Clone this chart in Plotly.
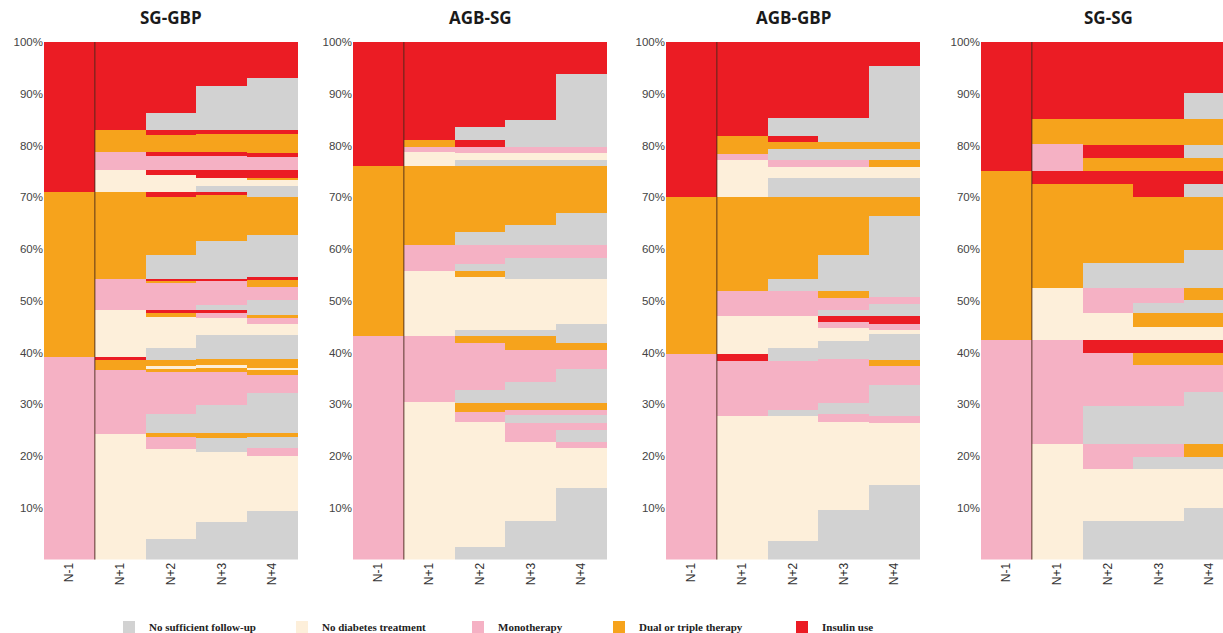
import plotly.graph_objects as go

# ---------------- data ----------------
COLUMNS = ["N-1", "N+1", "N+2", "N+3", "N+4"]
PANEL_TITLES = ["SG-GBP", "AGB-SG", "AGB-GBP", "SG-SG"]
CODES = ["G", "C", "P", "O", "R"]
CATEGORY_NAMES = ["No sufficient follow-up", "No diabetes treatment", "Monotherapy",
                  "Dual or triple therapy", "Insulin use"]
Y_TICKS = [10, 20, 30, 40, 50, 60, 70, 80, 90, 100]
Y_TICK_LABELS = ["10%", "20%", "30%", "40%", "50%", "60%", "70%", "80%", "90%", "100%"]

# Each column: category codes from bottom to top, and cumulative top (%) of each segment
SG_GBP_CATS = [
    "P O R",
    "C P O R C P O C P O R",
    "G C P O G P O C O G C O R P O R G O R C R P R O R G R",
    "G C G O G P O C O G C P R G P R G O R G C R P R O R G R",
    "G C P G O G P O C O G C P O G P O R G O G C O R P R O R G R",
]
SG_GBP_TOPS = [
    [39.1, 71.0, 100],
    [24.3, 36.6, 38.6, 39.1, 48.3, 54.3, 71.1, 75.3, 78.7, 83.0, 100],
    [3.9, 21.4, 23.7, 24.5, 28.2, 36.3, 36.8, 37.3, 38.6, 40.8, 46.9, 47.6, 48.2, 53.4,
     53.8, 54.3, 58.8, 70.0, 71.1, 74.3, 75.3, 78.0, 78.7, 82.1, 83.0, 86.2, 100],
    [7.2, 20.8, 23.4, 24.5, 29.9, 36.2, 37.0, 37.6, 38.7, 43.4, 46.6, 47.6, 48.2, 49.2,
     53.8, 54.3, 61.6, 70.4, 71.1, 72.1, 73.8, 75.3, 78.0, 78.7, 82.3, 83.0, 91.5, 100],
    [9.4, 20.0, 21.5, 23.6, 24.4, 32.2, 35.6, 36.6, 37.1, 38.7, 43.4, 45.6, 46.6, 47.2,
     50.1, 52.7, 54.0, 54.6, 62.7, 70.0, 72.1, 73.5, 73.8, 75.3, 77.8, 78.5, 82.3, 83.0, 93.0, 100],
]

AGB_SG_CATS = [
    "P O R",
    "C P C P O C P O R",
    "G C P O G P O G C O G P G O G C P R G R",
    "G C P G P O G P O G C G P G O G C P G R",
    "G C P G P G P O G P O G C G P G O G C P G R",
]
AGB_SG_TOPS = [
    [43.1, 76.0, 100],
    [30.5, 43.1, 55.8, 60.8, 76.0, 78.8, 79.8, 81.1, 100],
    [2.5, 26.5, 28.6, 30.2, 32.8, 41.8, 43.1, 44.3, 54.5, 55.8, 57.1, 60.8, 63.3, 76.0,
     77.2, 78.5, 79.8, 81.1, 83.6, 100],
    [7.5, 22.8, 26.4, 27.9, 28.9, 30.3, 34.3, 40.5, 43.1, 44.3, 54.3, 58.2, 60.8, 64.6,
     76.0, 77.2, 78.5, 79.8, 84.9, 100],
    [13.9, 21.6, 22.8, 25.1, 26.4, 27.9, 28.9, 30.3, 36.8, 40.5, 41.8, 45.6, 54.3, 58.2,
     60.8, 67.0, 76.0, 77.2, 78.5, 79.8, 93.8, 100],
]

AGB_GBP_CATS = [
    "P O R",
    "C P R C P O C P O R",
    "G C G P G C P G O G C P G O R G R",
    "G C P G P G C P R G P O G O G C P G O G R",
    "G C P G P O G C P R G P G O G C O G O G R",
]
AGB_GBP_TOPS = [
    [39.7, 70.1, 100],
    [27.8, 38.4, 39.8, 47.1, 51.8, 70.1, 77.2, 78.3, 81.8, 100],
    [3.6, 27.8, 28.9, 38.4, 40.9, 47.1, 51.8, 54.3, 70.1, 73.7, 75.9, 77.2, 79.4, 80.7,
     81.8, 85.4, 100],
    [9.6, 26.6, 28.2, 30.2, 38.7, 42.3, 44.7, 45.8, 47.1, 48.2, 50.5, 51.8, 58.8, 70.1,
     73.7, 75.9, 77.2, 79.4, 80.7, 85.4, 100],
    [14.4, 26.4, 27.8, 33.7, 37.4, 38.5, 43.5, 44.3, 45.6, 47.1, 49.4, 50.8, 66.3, 70.1,
     73.7, 75.9, 77.2, 79.4, 80.7, 95.4, 100],
]

SG_SG_CATS = [
    "P O R",
    "C P C O R P O R",
    "G C P G P R C P G O R O R O R",
    "G C G P G P O R C O G P G O R O R O R",
    "G C G O G P O R C O G O G O G R O G O G R",
]
SG_SG_TOPS = [
    [42.5, 75.1, 100],
    [22.4, 42.5, 52.4, 72.5, 75.1, 80.2, 85.1, 100],
    [7.4, 17.5, 22.4, 29.6, 40.0, 42.5, 47.6, 52.4, 57.2, 72.5, 75.1, 77.5, 80.1, 85.1, 100],
    [7.4, 17.5, 19.9, 22.4, 29.6, 37.6, 40.0, 42.5, 45.0, 47.6, 49.5, 52.4, 57.2, 70.1,
     75.1, 77.5, 80.1, 85.1, 100],
    [9.9, 17.5, 19.9, 22.4, 32.4, 37.6, 40.0, 42.5, 45.0, 47.6, 50.1, 52.4, 59.8, 70.1,
     72.5, 75.1, 77.5, 80.1, 85.1, 90.1, 100],
]

# ---------------- styling ----------------
COLORS = {"G": "#D2D2D2", "C": "#FDEFDA", "P": "#F5B1C4", "O": "#F6A31C", "R": "#EB1C24"}
W, H = 1223, 633
PANEL_PX = [(44, 298), (353, 607), (666, 920), (981, 1235)]
Y_TOP_PX, Y_BOT_PX = 42, 559.5
LEGEND_TEXT_X = [149, 322, 498, 639, 822]
LEGEND_Y_PX = 627

panels = [
    (PANEL_TITLES[0], SG_GBP_CATS, SG_GBP_TOPS),
    (PANEL_TITLES[1], AGB_SG_CATS, AGB_SG_TOPS),
    (PANEL_TITLES[2], AGB_GBP_CATS, AGB_GBP_TOPS),
    (PANEL_TITLES[3], SG_SG_CATS, SG_SG_TOPS),
]

fig = go.Figure()
layout = dict(
    width=W, height=H, margin=dict(l=0, r=0, t=0, b=0, autoexpand=False),
    paper_bgcolor="white", plot_bgcolor="white",
    barmode="overlay", bargap=0, showlegend=True,
    font=dict(family="Liberation Sans, Arial, sans-serif", color="#3a3a3a"),
    annotations=[], shapes=[],
)

y_domain = [(H - Y_BOT_PX) / H, (H - Y_TOP_PX) / H]

for pi, (title, cats, tops) in enumerate(panels):
    suffix = "" if pi == 0 else str(pi + 1)
    xa, ya = "x" + suffix, "y" + suffix
    for k, code in enumerate(CODES):
        xs, bases, hs = [], [], []
        for ci in range(len(COLUMNS)):
            prev = 0.0
            for c, t in zip(cats[ci].split(), tops[ci]):
                if c == code:
                    xs.append(ci)
                    bases.append(prev)
                    hs.append(t - prev)
                prev = t
        fig.add_trace(go.Bar(
            x=xs, y=hs, base=bases, width=1.0,
            marker=dict(color=COLORS[code], line=dict(width=0)),
            name=CATEGORY_NAMES[k], xaxis=xa, yaxis=ya,
            showlegend=(pi == 0),
            legend="legend" if k == 0 else f"legend{k + 1}",
            hovertemplate="%{y:.1f}%<extra>" + CATEGORY_NAMES[k] + "</extra>",
        ))

    x0px, x1px = PANEL_PX[pi]
    dom_right = min(x1px, W)
    col_w = (x1px - x0px) / len(COLUMNS)
    x_range_right = -0.5 + (dom_right - x0px) / col_w
    layout["xaxis" + suffix] = dict(
        domain=[x0px / W, dom_right / W], anchor=ya,
        range=[-0.5, x_range_right], automargin=False,
        tickmode="array", tickvals=list(range(len(COLUMNS))), ticktext=COLUMNS,
        tickangle=-90, showgrid=False, zeroline=False, showline=False, ticks="",
        tickfont=dict(size=12, color="#333333"), fixedrange=True,
    )
    layout["yaxis" + suffix] = dict(
        domain=y_domain, anchor=xa, range=[0, 100], automargin=False,
        tickmode="array", tickvals=Y_TICKS, ticktext=Y_TICK_LABELS,
        showgrid=False, zeroline=False, showline=False, ticks="",
        tickfont=dict(size=11.5, color="#444444"), fixedrange=True,
    )
    # separator between baseline column and follow-up columns
    layout["shapes"].append(dict(
        type="line", xref=xa, yref=ya + " domain", x0=0.5, x1=0.5, y0=0, y1=1,
        line=dict(color="rgba(70,40,25,0.6)", width=1.5),
    ))
    layout["annotations"].append(dict(
        text=f"<b>{title}</b>", xref="paper", yref="paper",
        x=(x0px + x1px) / 2 / W, y=(H - 18) / H, xanchor="center", yanchor="middle",
        showarrow=False, font=dict(family="Open Sans, sans-serif", size=17, color="#1a1a1a"),
    ))

for k in range(len(CODES)):
    key = "legend" if k == 0 else f"legend{k + 1}"
    layout[key] = dict(
        xref="container", yref="container",
        x=(LEGEND_TEXT_X[k] - 40) / W, y=(H - LEGEND_Y_PX) / H,
        xanchor="left", yanchor="middle", orientation="h",
        bgcolor="rgba(0,0,0,0)", borderwidth=0,
        font=dict(family="Liberation Serif, Times New Roman, serif", size=11,
                  color="#222222", weight="bold"),
    )

fig.update_layout(**layout)
fig.write_html("out.html")
